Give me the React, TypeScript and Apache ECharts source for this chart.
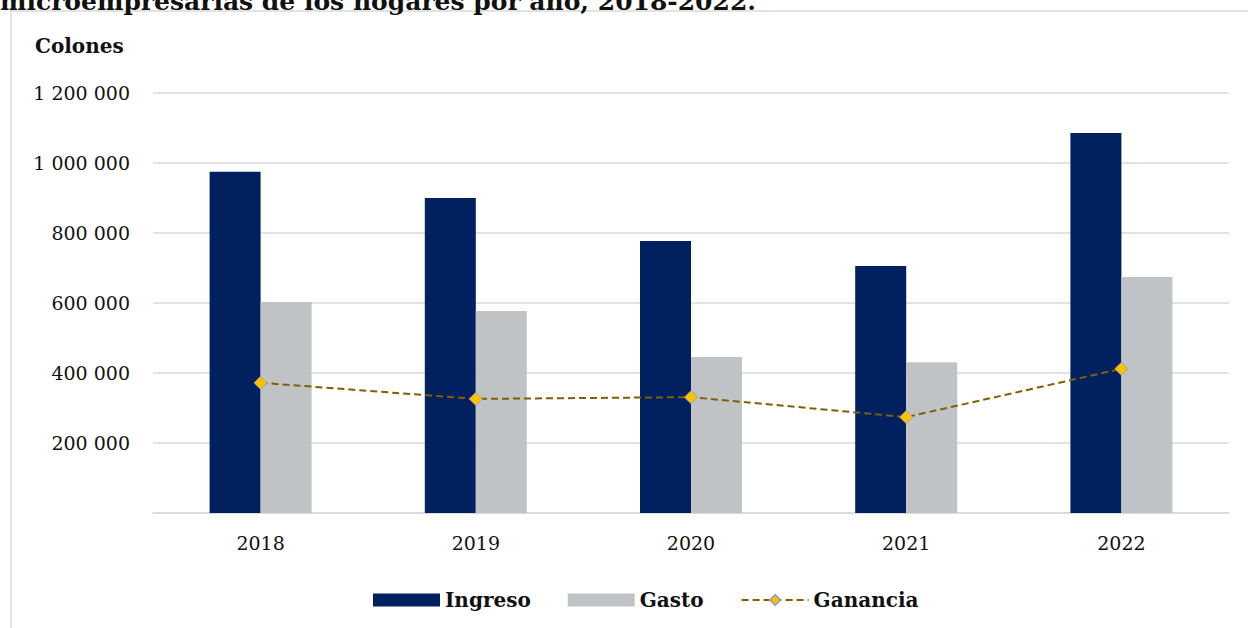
import React, { useEffect, useRef } from "react";
import * as echarts from "echarts";

const years = ["2018", "2019", "2020", "2021", "2022"];
const ingreso = [975000, 900000, 777000, 706000, 1086000];
const gasto = [603000, 577000, 446000, 431000, 674000];
const ganancia = [372000, 326000, 331000, 274000, 412000];
const titleText = "microempresarias de los hogares por año, 2018-2022.";
const unitText = "Colones";

const fmt = (v: number) =>
  v === 0 ? "" : String(v).replace(/\B(?=(\d{3})+(?!\d))/g, " ");

export default function App() {
  const ref = useRef<HTMLDivElement>(null);
  useEffect(() => {
    document.body.style.margin = "0";
    const chart = echarts.init(ref.current!, undefined, { renderer: "svg" });
    const serif = "DejaVu Serif";
    chart.setOption({
      animation: false,
      backgroundColor: "#ffffff",
      textStyle: { fontFamily: serif },
      graphic: [
        {
          type: "rect",
          shape: { x: 11, y: 11, width: 1400, height: 800 },
          style: { fill: "none", stroke: "#d9d9d9", lineWidth: 1.5 },
          silent: true,
        },
        {
          type: "text",
          x: 0,
          y: 14,
          style: {
            text: titleText,
            font: `bold 25px "${serif}"`,
            fill: "#111",
            textVerticalAlign: "bottom",
          },
        },
        {
          type: "text",
          x: 35,
          y: 46,
          style: {
            text: unitText,
            font: `bold 20px "${serif}"`,
            fill: "#111",
            textVerticalAlign: "middle",
          },
        },
      ],
      legend: {
        left: 368,
        top: 585,
        itemGap: 37,
        itemWidth: 67,
        itemHeight: 13,
        textStyle: { fontFamily: serif, fontWeight: "bold", fontSize: 20, color: "#111" },
        data: [
          { name: "Ingreso", icon: "rect" },
          { name: "Gasto", icon: "rect" },
          { name: "Ganancia" },
        ],
      },
      grid: { left: 153, right: 19, top: 93, bottom: 115 },
      xAxis: {
        type: "category",
        data: years,
        axisLine: { lineStyle: { color: "#d9d9d9", width: 1.5 } },
        axisTick: { show: false },
        axisLabel: { color: "#111", fontSize: 19, fontFamily: serif, margin: 20 },
      },
      yAxis: {
        type: "value",
        min: 0,
        max: 1200000,
        interval: 200000,
        axisLine: { show: false },
        axisTick: { show: false },
        splitLine: { lineStyle: { color: "#d9d9d9", width: 1.5 } },
        axisLabel: {
          color: "#111",
          fontSize: 19,
          fontFamily: serif,
          margin: 23,
          formatter: fmt,
        },
      },
      series: [
        {
          name: "Ingreso",
          type: "bar",
          data: ingreso,
          barWidth: 51,
          barGap: "0%",
          itemStyle: { color: "#002060" },
        },
        {
          name: "Gasto",
          type: "bar",
          data: gasto,
          barWidth: 51,
          itemStyle: { color: "#C0C3C6" },
        },
        {
          name: "Ganancia",
          type: "line",
          data: ganancia,
          symbol: "diamond",
          symbolSize: 13,
          lineStyle: { color: "#7F6000", type: [7, 4], width: 2 },
          itemStyle: { color: "#FFC000", borderColor: "#A5A5A5", borderWidth: 1 },
          z: 5,
        },
      ],
    });
    return () => chart.dispose();
  }, []);
  return <div ref={ref} style={{ width: 1248, height: 628 }} />;
}
